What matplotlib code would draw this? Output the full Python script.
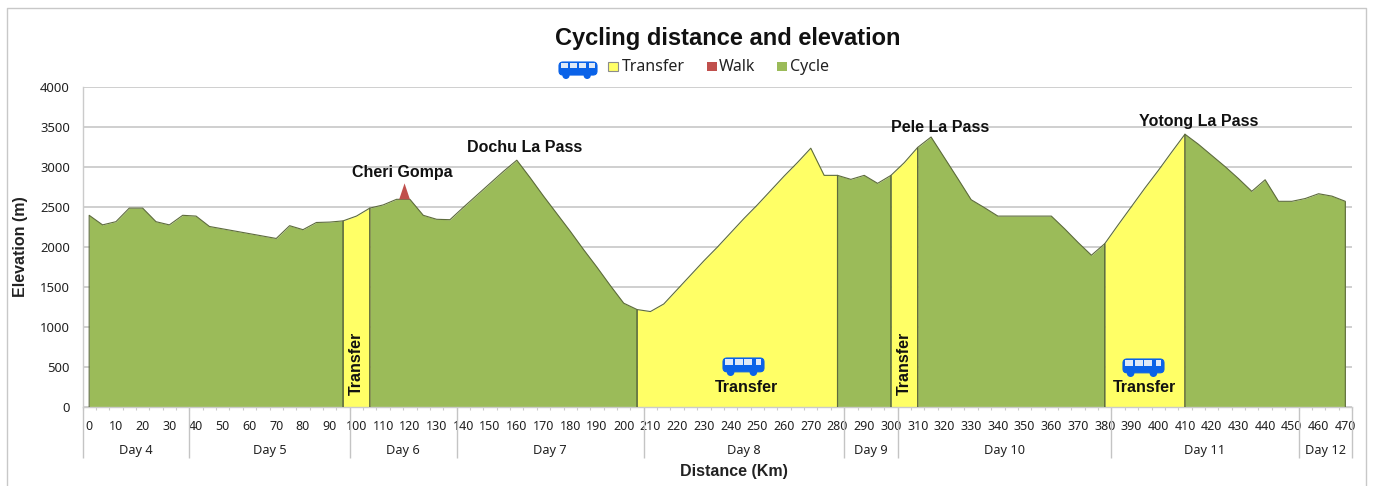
import numpy as np
import matplotlib
matplotlib.use("Agg")
import matplotlib.pyplot as plt
from matplotlib.patches import FancyBboxPatch, Rectangle, Circle

plt.rcParams["font.family"] = ["Noto Sans", "DejaVu Sans"]

# elevation every 5 km
distance = list(range(0, 475, 5))
elevation = [
    2400, 2280, 2320, 2490, 2490, 2320, 2280, 2400, 2390, 2260,
    2230, 2200, 2170, 2140, 2110, 2270, 2220, 2310, 2315, 2330,
    2390, 2490, 2530, 2600, 2600, 2400, 2350, 2345, 2500, 2650,
    2800, 2950, 3090, 2870, 2640, 2420, 2200, 1970, 1750, 1520,
    1300, 1220, 1195, 1290, 1470, 1650, 1830, 2000, 2180, 2360,
    2530, 2710, 2890, 3060, 3240, 2900, 2900, 2850, 2900, 2800,
    2900, 3060, 3250, 3380, 3120, 2860, 2595, 2495, 2390, 2390,
    2390, 2390, 2390, 2230, 2060, 1900, 2045, 2280, 2510, 2740,
    2960, 3190, 3415, 3290, 3150, 3010, 2860, 2700, 2845, 2575,
    2575, 2610, 2670, 2640, 2575,
]

cycle_parts = [(0, 95), (105, 205), (280, 300), (310, 380), (410, 470)]
transfer_parts = [(95, 105), (205, 280), (300, 310), (380, 410)]
walk_x = [116, 118, 120]
walk_y = [2600, 2800, 2600]

day_names = ["Day 4", "Day 5", "Day 6", "Day 7", "Day 8", "Day 9", "Day 10", "Day 11", "Day 12"]
day_edges = [-2.5, 37.5, 97.5, 137.5, 207.5, 282.5, 302.5, 382.5, 452.5, 472.5]
x_ticks = list(range(0, 480, 10))
y_ticks = list(range(0, 4500, 500))

passes = [("Cheri Gompa", 117, 2930), ("Dochu La Pass", 163, 3255),
          ("Pele La Pass", 318.5, 3493), ("Yotong La Pass", 415, 3580)]
side_labels = [("Transfer", 100), ("Transfer", 305)]
bus_labels = [("Transfer", 246, 238), ("Transfer", 395, 238)]

GREEN = "#9bbb59"
YELLOW = "#ffff66"
RED = "#c0504d"
EDGE = "#5d6b3c"
GRID = "#cbcbcb"
BLUE = "#0a62e8"
BOLD = dict(family="Liberation Sans", fontweight="bold")

fig = plt.figure(figsize=(13.73, 4.86), dpi=100)
ax = fig.add_axes([82.5 / 1373, 79 / 486, 1269.5 / 1373, 319.5 / 486])

# pixel overlay for the frame and the bus icons
over = fig.add_axes([0, 0, 1, 1], zorder=5)
over.set_xlim(0, 1373)
over.set_ylim(486, 0)
over.axis("off")


def draw_part(part, colour):
    start, end = part
    xs = [d for d in distance if start <= d <= end]
    ys = [elevation[distance.index(d)] for d in xs]
    ax.fill_between(xs, 0, ys, color=colour, lw=0, zorder=2)
    ax.plot([xs[0]] + xs + [xs[-1]], [0] + ys + [0], color=EDGE, lw=0.8, zorder=3)


def draw_bus(x, y, w, h):
    over.add_patch(FancyBboxPatch((x + 1, y + 1), w - 2, h * 0.78 - 1, boxstyle="round,pad=0,rounding_size=4",
                                  fc=BLUE, ec=BLUE, lw=0.8))
    for cx in (0.2, 0.73):
        over.add_patch(Circle((x + w * cx, y + h * 0.8), h * 0.2, fc=BLUE, ec="none"))
    win_w = w * 0.18
    for wx in (0.08, 0.3, 0.52, 0.78):
        over.add_patch(Rectangle((x + w * wx, y + h * 0.1), win_w if wx < 0.7 else win_w * 0.75, h * 0.3,
                                 fc="#dfe9f7", ec="none"))


for part in cycle_parts:
    draw_part(part, GREEN)
for part in transfer_parts:
    draw_part(part, YELLOW)
ax.fill(walk_x, walk_y, color=RED, lw=0, zorder=3)

ax.set_xlim(-2.5, 472.5)
ax.set_ylim(0, 4000)
ax.set_yticks(y_ticks)
ax.set_xticks(x_ticks)
ax.set_xticks(np.arange(-2.5, 475, 5), minor=True)
ax.tick_params(axis="x", which="major", length=0, labelsize=9, pad=9, colors="#222222")
ax.tick_params(axis="x", which="minor", length=2, color=GRID, width=0.8, direction="out")
ax.tick_params(axis="y", length=0, labelsize=9.4, pad=9, colors="#222222")
ax.grid(axis="y", color=GRID, lw=1.3, zorder=1)
ax.set_axisbelow(True)
for name, spine in ax.spines.items():
    spine.set_visible(name in ("left", "bottom"))
    spine.set_color(GRID)
    spine.set_linewidth(1)

# day bands under the tick labels
trans = ax.get_xaxis_transform()
ax.vlines(day_edges, -0.16, 0, transform=trans, color="#c4c4c4", lw=1, clip_on=False)
for name, left, right in zip(day_names, day_edges[:-1], day_edges[1:]):
    ax.text((left + right) / 2, -0.135, name, transform=trans, ha="center", va="center",
            fontsize=9.2, color="#222222")

for name, x, y in passes:
    ax.text(x, y, name, ha="center", va="center", fontsize=11.5, color="#111111", zorder=4, **BOLD)
for name, x in side_labels:
    ax.text(x, 150, name, rotation=90, ha="center", va="bottom", fontsize=11.5, color="#111111", zorder=4, **BOLD)
for name, x, y in bus_labels:
    ax.text(x, y, name, ha="center", va="center", fontsize=11.5, color="#111111", zorder=4, **BOLD)

fig.text(728 / 1373, 1 - 38 / 486, "Cycling distance and elevation", ha="center", va="center",
         fontsize=17, color="#111111", **BOLD)
fig.text(734 / 1373, 1 - 471 / 486, "Distance (Km)", ha="center", va="center", fontsize=11.5,
         color="#222222", **BOLD)
fig.text(21 / 1373, 1 - 247 / 486, "Elevation (m)", rotation=90, ha="center", va="center", fontsize=11.5,
         color="#222222", **BOLD)

# legend, laid out by hand to sit beside the bus icon
for colour, px, name, tx in [(YELLOW, 608, "Transfer", 622), (RED, 707, "Walk", 719), (GREEN, 777, "Cycle", 790)]:
    over.add_patch(Rectangle((px, 62), 10, 9.5, fc=colour, ec="#8c8c8c" if colour == YELLOW else "none", lw=0.8))
    over.text(tx, 67, name, ha="left", va="center", fontsize=11.5, color="#222222")

draw_bus(558, 61, 40, 18)
draw_bus(722, 357, 43, 19)
draw_bus(1122, 358, 43, 19)

# outer chart frame, open at the bottom
over.plot([6.5, 6.5, 1365.5, 1365.5], [486, 8.5, 8.5, 486], color="#c8c8c8", lw=1)

fig.savefig("out.png", dpi=100)
